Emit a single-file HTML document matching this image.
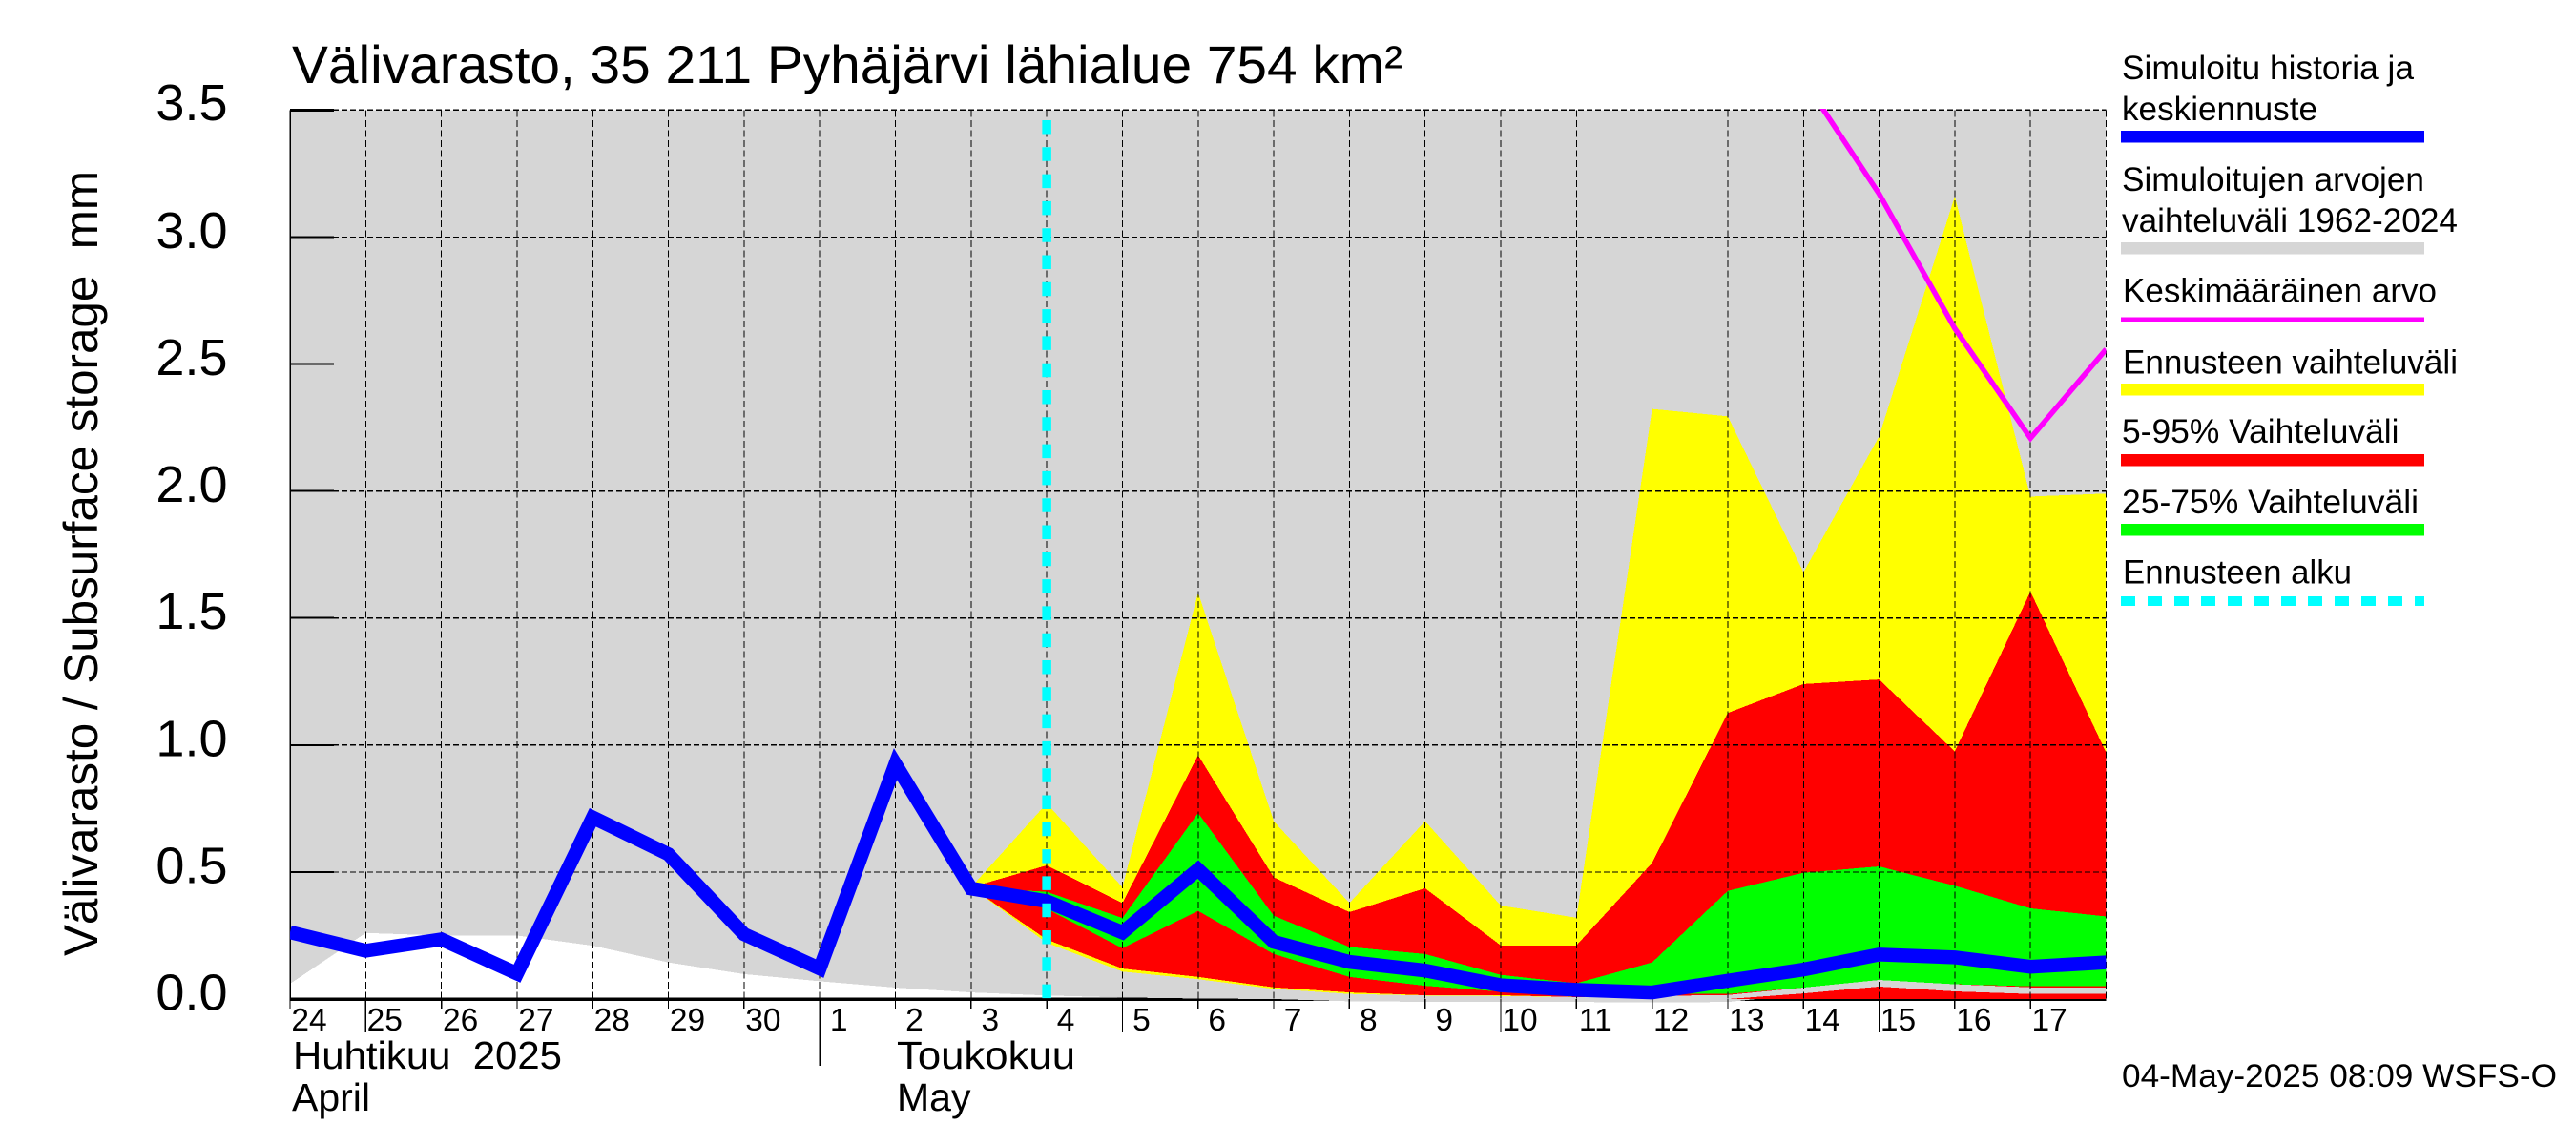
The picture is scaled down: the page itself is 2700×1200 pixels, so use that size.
<!DOCTYPE html>
<html lang="fi">
<head>
<meta charset="utf-8">
<title>Välivarasto, 35 211 Pyhäjärvi lähialue 754 km²</title>
<style>
html,body{margin:0;padding:0;background:#fff;}
svg{display:block;}
text{font-family:"Liberation Sans",Arial,sans-serif;fill:#000;}
</style>
</head>
<body>
<svg id="chart" xmlns="http://www.w3.org/2000/svg" width="2700" height="1200" viewBox="0 0 2700 1200">
  <rect x="0" y="0" width="2700" height="1200" fill="#fff"/>
  <defs>
    <clipPath id="plot-clip"><rect x="304" y="114" width="1903.5" height="945"/></clipPath>
  </defs>
  <text x="306" y="87" font-size="56" textLength="1164" lengthAdjust="spacingAndGlyphs">Välivarasto, 35 211 Pyhäjärvi lähialue 754 km²</text>
  <text transform="translate(102,1002) rotate(-90)" font-size="50" textLength="823" lengthAdjust="spacingAndGlyphs" xml:space="preserve">Välivarasto / Subsurface storage  mm</text>
  <g id="x-axis-base"></g>
  <g id="marks-under" clip-path="url(#plot-clip)" shape-rendering="crispEdges"></g>
  <g id="grid" shape-rendering="crispEdges"></g>
  <g id="marks-over" clip-path="url(#plot-clip)"></g>
  <g id="labels"></g>
  <text x="307" y="1120" font-size="41" textLength="282" lengthAdjust="spacingAndGlyphs" xml:space="preserve">Huhtikuu  2025</text>
  <text x="306" y="1164" font-size="41">April</text>
  <text x="940" y="1120" font-size="41" textLength="187" lengthAdjust="spacingAndGlyphs">Toukokuu</text>
  <text x="940" y="1164" font-size="41">May</text>

  <g font-size="35">
    <g>
      <text x="2224" y="83" textLength="306" lengthAdjust="spacingAndGlyphs">Simuloitu historia ja</text>
      <text x="2224" y="126" textLength="205" lengthAdjust="spacingAndGlyphs">keskiennuste</text>
      <rect x="2223" y="137" width="318" height="12.5" fill="#0000ff"/>
    </g>
    <g>
      <text x="2224" y="200" textLength="317" lengthAdjust="spacingAndGlyphs">Simuloitujen arvojen</text>
      <text x="2224" y="243" textLength="352" lengthAdjust="spacingAndGlyphs">vaihteluväli 1962-2024</text>
      <rect x="2223" y="254" width="318" height="12.5" fill="#d6d6d6"/>
    </g>
    <g>
      <text x="2225" y="316.5" textLength="329" lengthAdjust="spacingAndGlyphs">Keskimääräinen arvo</text>
      <rect x="2223" y="332.5" width="318" height="4.5" fill="#ff00ff"/>
    </g>
    <g>
      <text x="2225" y="391.5" textLength="351" lengthAdjust="spacingAndGlyphs">Ennusteen vaihteluväli</text>
      <rect x="2223" y="402" width="318" height="12.5" fill="#ffff00"/>
    </g>
    <g>
      <text x="2224" y="464" textLength="290.5" lengthAdjust="spacingAndGlyphs">5-95% Vaihteluväli</text>
      <rect x="2223" y="476" width="318" height="12.5" fill="#ff0000"/>
    </g>
    <g>
      <text x="2224" y="538" textLength="311" lengthAdjust="spacingAndGlyphs">25-75% Vaihteluväli</text>
      <rect x="2223" y="549" width="318" height="12.5" fill="#00ff00"/>
    </g>
    <g>
      <text x="2225" y="611.5" textLength="240" lengthAdjust="spacingAndGlyphs">Ennusteen alku</text>
      <line x1="2223" y1="630" x2="2541" y2="630" stroke="#00ffff" stroke-width="10" stroke-dasharray="15 13"/>
    </g>
  </g>
  <text x="2224" y="1139" font-size="34" textLength="456" lengthAdjust="spacingAndGlyphs">04-May-2025 08:09 WSFS-O</text>
</svg>
<script>
// Chart data (values in mm)
const dayLabels = ["24","25","26","27","28","29","30","1","2","3","4","5","6","7","8","9","10","11","12","13","14","15","16","17"];
const yTickValues = [0, 0.5, 1, 1.5, 2, 2.5, 3, 3.5];
const yTickLabels = ["0.0","0.5","1.0","1.5","2.0","2.5","3.0","3.5"];
const midTickDays = ["25","5","10","15"];
const monthTickDays = ["1"];
const forecastStartDay = "4";
const forecastFirstIndex = 9;
const lowStripFirstIndex = 19;
const centralSeries = [0.263,0.19,0.235,0.10,0.715,0.57,0.255,0.12,0.925,0.435,0.385,0.262,0.51,0.225,0.146,0.112,0.054,0.036,0.026,0.072,0.116,0.175,0.164,0.127,0.144];
const historicUpper = [3.5,3.5,3.5,3.5,3.5,3.5,3.5,3.5,3.5,3.5,3.5,3.5,3.5,3.5,3.5,3.5,3.5,3.5,3.5,3.5,3.5,3.5,3.5,3.5,3.5];
const historicLower = [0.06,0.26,0.25,0.25,0.21,0.144,0.098,0.07,0.045,0.026,0.014,0.006,0.002,0,-0.009,-0.011,-0.011,-0.012,-0.013,-0.012,0.02,0.02,0.02,0.02,0.02];
const meanSeries = [null,null,null,null,null,null,null,null,null,null,null,null,null,null,null,null,null,null,null,null,3.62,3.17,2.64,2.208,2.558];
const forecastMax = [0.44,0.77,0.44,1.6,0.7,0.378,0.7,0.368,0.32,2.323,2.294,1.68,2.215,3.16,1.978,1.99];
const forecastMin = [0.44,0.221,0.108,0.078,0.04,0.02,0.014,0.012,0.008,0.012,0.016,0.045,0.075,0.058,0.046,0.046];
const p95 = [0.44,0.526,0.378,0.96,0.479,0.342,0.436,0.211,0.211,0.536,1.126,1.24,1.258,0.975,1.604,0.97];
const p05 = [0.44,0.234,0.12,0.087,0.046,0.026,0.015,0.015,0.008,0.012,0.016,0.045,0.075,0.058,0.046,0.046];
const p75 = [0.44,0.422,0.319,0.732,0.328,0.205,0.177,0.095,0.062,0.144,0.4255,0.497,0.522,0.446,0.357,0.325];
const p25 = [0.44,0.355,0.2,0.347,0.177,0.087,0.052,0.029,0.02,0.02,0.02,0.045,0.075,0.058,0.05,0.05];
const lowStrip = [0,0.022,0.049,0.03,0.02,0.02];

const NS = "http://www.w3.org/2000/svg";
const PLOT = {left:304, right:2207.5, top:115.3, bottom:1047};
const xMax = dayLabels.length;
function xScale(i){ return PLOT.left + (PLOT.right - PLOT.left) * i / xMax; }
function yScale(v){ return PLOT.bottom - (PLOT.bottom - PLOT.top) * v / 3.5; }
function make(tag, parent, attrs){
  const el = document.createElementNS(NS, tag);
  for (const k in attrs) el.setAttribute(k, attrs[k]);
  parent.appendChild(el);
  return el;
}
function bandPoints(hi, lo, start){
  const up = hi.map((v,i)=>xScale(start+i).toFixed(2)+","+yScale(v).toFixed(2));
  const down = lo.map((v,i)=>xScale(start+i).toFixed(2)+","+yScale(v).toFixed(2)).reverse();
  return up.concat(down).join(" ");
}
function linePoints(values){
  return values.map((v,i)=> v===null ? null : xScale(i).toFixed(2)+","+yScale(v).toFixed(2)).filter(Boolean).join(" ");
}

const axisGroup = document.getElementById("x-axis-base");
const under = document.getElementById("marks-under");
const grid = document.getElementById("grid");
const over = document.getElementById("marks-over");
const labels = document.getElementById("labels");

// x-axis baseline (beneath the historic band, which dips over it)
const axisLine = make("rect", axisGroup, {x:PLOT.left, y:PLOT.bottom-1.5, width:PLOT.right-PLOT.left, height:3.5, fill:"#000"});



// bands
const histBand = make("polygon", under, {points:bandPoints(historicUpper, historicLower, 0), fill:"#d6d6d6"});


const yellowBand = make("polygon", under, {points:bandPoints(forecastMax, forecastMin, forecastFirstIndex), fill:"#ffff00"});


const redBand = make("polygon", under, {points:bandPoints(p95, p05, forecastFirstIndex), fill:"#ff0000"});


const greenBand = make("polygon", under, {points:bandPoints(p75, p25, forecastFirstIndex), fill:"#00ff00"});


const lowBand = make("polygon", under, {points:bandPoints(lowStrip, lowStrip.map(()=>0), lowStripFirstIndex), fill:"#ff0000"});



// grid
yTickValues.forEach((v,k)=>{
  const y = yScale(v);
  if (v > 0) {
    const g = make("line", grid, {x1:PLOT.left, x2:PLOT.right, y1:y, y2:y, stroke:"#000", "stroke-width":1.3, "stroke-dasharray":"6 3"});
    
    
    const t = make("line", grid, {x1:PLOT.left, x2:350, y1:y, y2:y, stroke:"#000", "stroke-width":v===3.5?3:2});
    
    
  }
  const lab = make("text", labels, {x:238.5, y:y+(v===3.5?10.5:11.5), "font-size":54, "text-anchor":"end"});
  
  
  lab.textContent = yTickLabels[k];
});
for (let i = 0; i <= xMax; i++) {
  const x = xScale(i);
  const g = make("line", grid, {x1:x, x2:x, y1:PLOT.top, y2:PLOT.bottom, stroke:"#000", "stroke-width":1, "stroke-dasharray":"7 3.5"});
  
  
  if (i < xMax) {
    const d = dayLabels[i];
    const end = monthTickDays.includes(d) ? 1117 : midTickDays.includes(d) ? 1082 : 1057;
    const t = make("line", grid, {x1:x, x2:x, y1:PLOT.bottom, y2:end, stroke:"#000", "stroke-width":1.3});
    
    
    const lab = make("text", labels, {x:x+20, y:1080, "font-size":33.5, "text-anchor":"middle"});
    
    
    lab.textContent = d;
  }
}
const leftEdge = make("line", grid, {x1:PLOT.left, x2:PLOT.left, y1:PLOT.top, y2:PLOT.bottom, stroke:"#000", "stroke-width":1.5});



// lines
const meanLine = make("polyline", over, {points:linePoints(meanSeries), fill:"none", stroke:"#ff00ff", "stroke-width":5.5, "stroke-linejoin":"miter", "stroke-miterlimit":8});


const centralLine = make("polyline", over, {points:linePoints(centralSeries), fill:"none", stroke:"#0000ff", "stroke-width":14.5, "stroke-linejoin":"miter", "stroke-miterlimit":8});


const startX = xScale(dayLabels.indexOf(forecastStartDay));
const startLine = make("line", over, {x1:startX, x2:startX, y1:126, y2:1048, stroke:"#00ffff", "stroke-width":9.5, "stroke-dasharray":"14.5 13.8"});


</script>
</body>
</html>
